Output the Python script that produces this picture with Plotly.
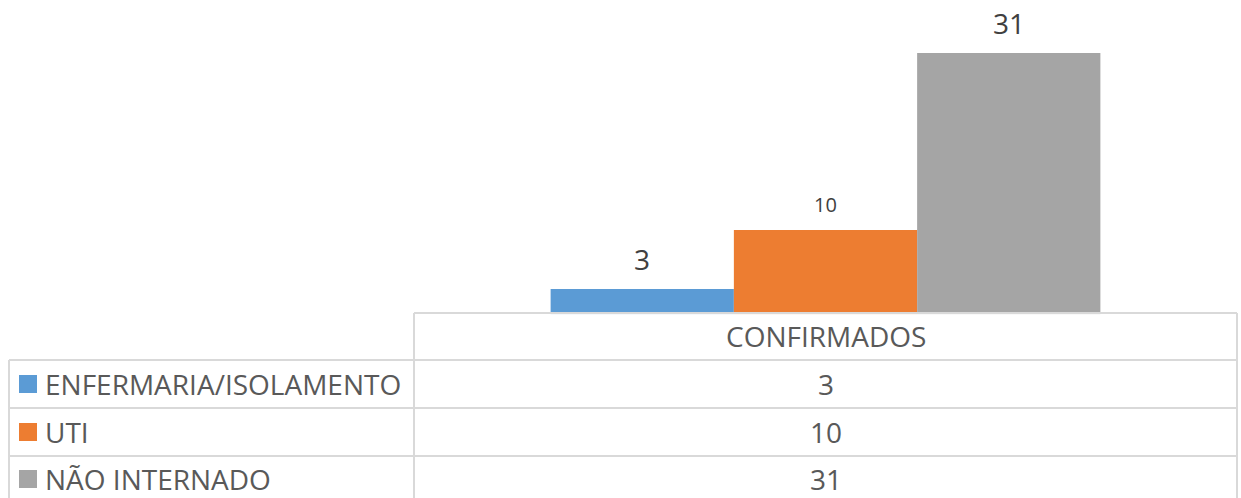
import plotly.graph_objects as go

categories = ["CONFIRMADOS"]
series_names = ["ENFERMARIA/ISOLAMENTO", "UTI", "NÃO INTERNADO"]
series_values = [[3], [10], [31]]
colors = ["#5B9BD5", "#ED7D31", "#A5A5A5"]
label_sizes = [28, 20, 28]

W, H = 1241, 498
px = lambda x: x / W
py = lambda y: 1 - y / H

FONT = "Open Sans"
TXT = "#595959"
GRID = "#D9D9D9"
bargap = 0.332

fig = go.Figure()
for name, vals, c in zip(series_names, series_values, colors):
    fig.add_trace(go.Bar(x=categories, y=vals, name=name, marker_color=c,
                         marker_line_width=0, showlegend=False, hoverinfo="skip"))

annotations = []
shapes = []
n = len(series_names)
bw = (1 - bargap) / n
for i, (vals, fs) in enumerate(zip(series_values, label_sizes)):
    off = (i - (n - 1) / 2) * bw
    annotations.append(dict(x=0 + off, y=vals[0], xref="x", yref="y", text=str(vals[0]),
                            showarrow=False, yanchor="middle", yshift=30 if fs > 24 else 26,
                            font=dict(family=FONT, size=fs, color="#404040")))

# table geometry (pixels)
tx0, tx1, lx0 = 414, 1237, 9
row_lines = [313, 360, 408, 456]
bottom = 498
line = dict(color=GRID, width=2)
shapes.append(dict(type="line", xref="paper", yref="paper", x0=px(tx0), x1=px(tx1),
                   y0=py(row_lines[0]), y1=py(row_lines[0]), line=line))
for yl in row_lines[1:]:
    shapes.append(dict(type="line", xref="paper", yref="paper", x0=px(lx0), x1=px(tx1),
                       y0=py(yl), y1=py(yl), line=line))
shapes.append(dict(type="line", xref="paper", yref="paper", x0=px(lx0), x1=px(lx0),
                   y0=py(row_lines[1]), y1=py(bottom), line=line))
for xv in (tx0, tx1):
    shapes.append(dict(type="line", xref="paper", yref="paper", x0=px(xv), x1=px(xv),
                       y0=py(row_lines[0]), y1=py(bottom), line=line))

tfs = 28
annotations.append(dict(x=px((tx0 + tx1) / 2), y=py(336), xref="paper", yref="paper",
                        text=categories[0], showarrow=False, xanchor="center", yanchor="middle",
                        font=dict(family=FONT, size=tfs, color=TXT)))
row_centers = [384, 432, 479]
for name, vals, c, yc in zip(series_names, series_values, colors, row_centers):
    annotations.append(dict(x=px(43), y=py(yc), xref="paper", yref="paper", text=name,
                            showarrow=False, xanchor="left", yanchor="middle",
                            font=dict(family=FONT, size=tfs, color=TXT)))
    annotations.append(dict(x=px((tx0 + tx1) / 2), y=py(yc), xref="paper", yref="paper",
                            text=str(vals[0]), showarrow=False, xanchor="center", yanchor="middle",
                            font=dict(family=FONT, size=tfs, color=TXT)))
    shapes.append(dict(type="rect", xref="paper", yref="paper", x0=px(19), x1=px(37),
                       y0=py(yc - 9), y1=py(yc + 9), fillcolor=c, line=dict(width=0)))

fig.update_layout(
    width=W, height=H, barmode="group", bargap=bargap, bargroupgap=0,
    margin=dict(l=0, r=0, t=0, b=0),
    paper_bgcolor="white", plot_bgcolor="white",
    xaxis=dict(domain=[px(tx0), px(tx1)], range=[-0.5, 0.5], showticklabels=False,
               showgrid=False, zeroline=False, showline=False, ticks="", fixedrange=True),
    yaxis=dict(domain=[py(314.3), 1], range=[0, 314.3 / 8.43], showticklabels=False,
               showgrid=False, zeroline=False, showline=False, ticks="", fixedrange=True),
    annotations=annotations, shapes=shapes,
)

fig.write_html("out.html", config={"displayModeBar": False},
               post_script="document.body.style.margin='0';document.body.style.padding='0';"
                           "document.body.style.overflow='hidden';")
